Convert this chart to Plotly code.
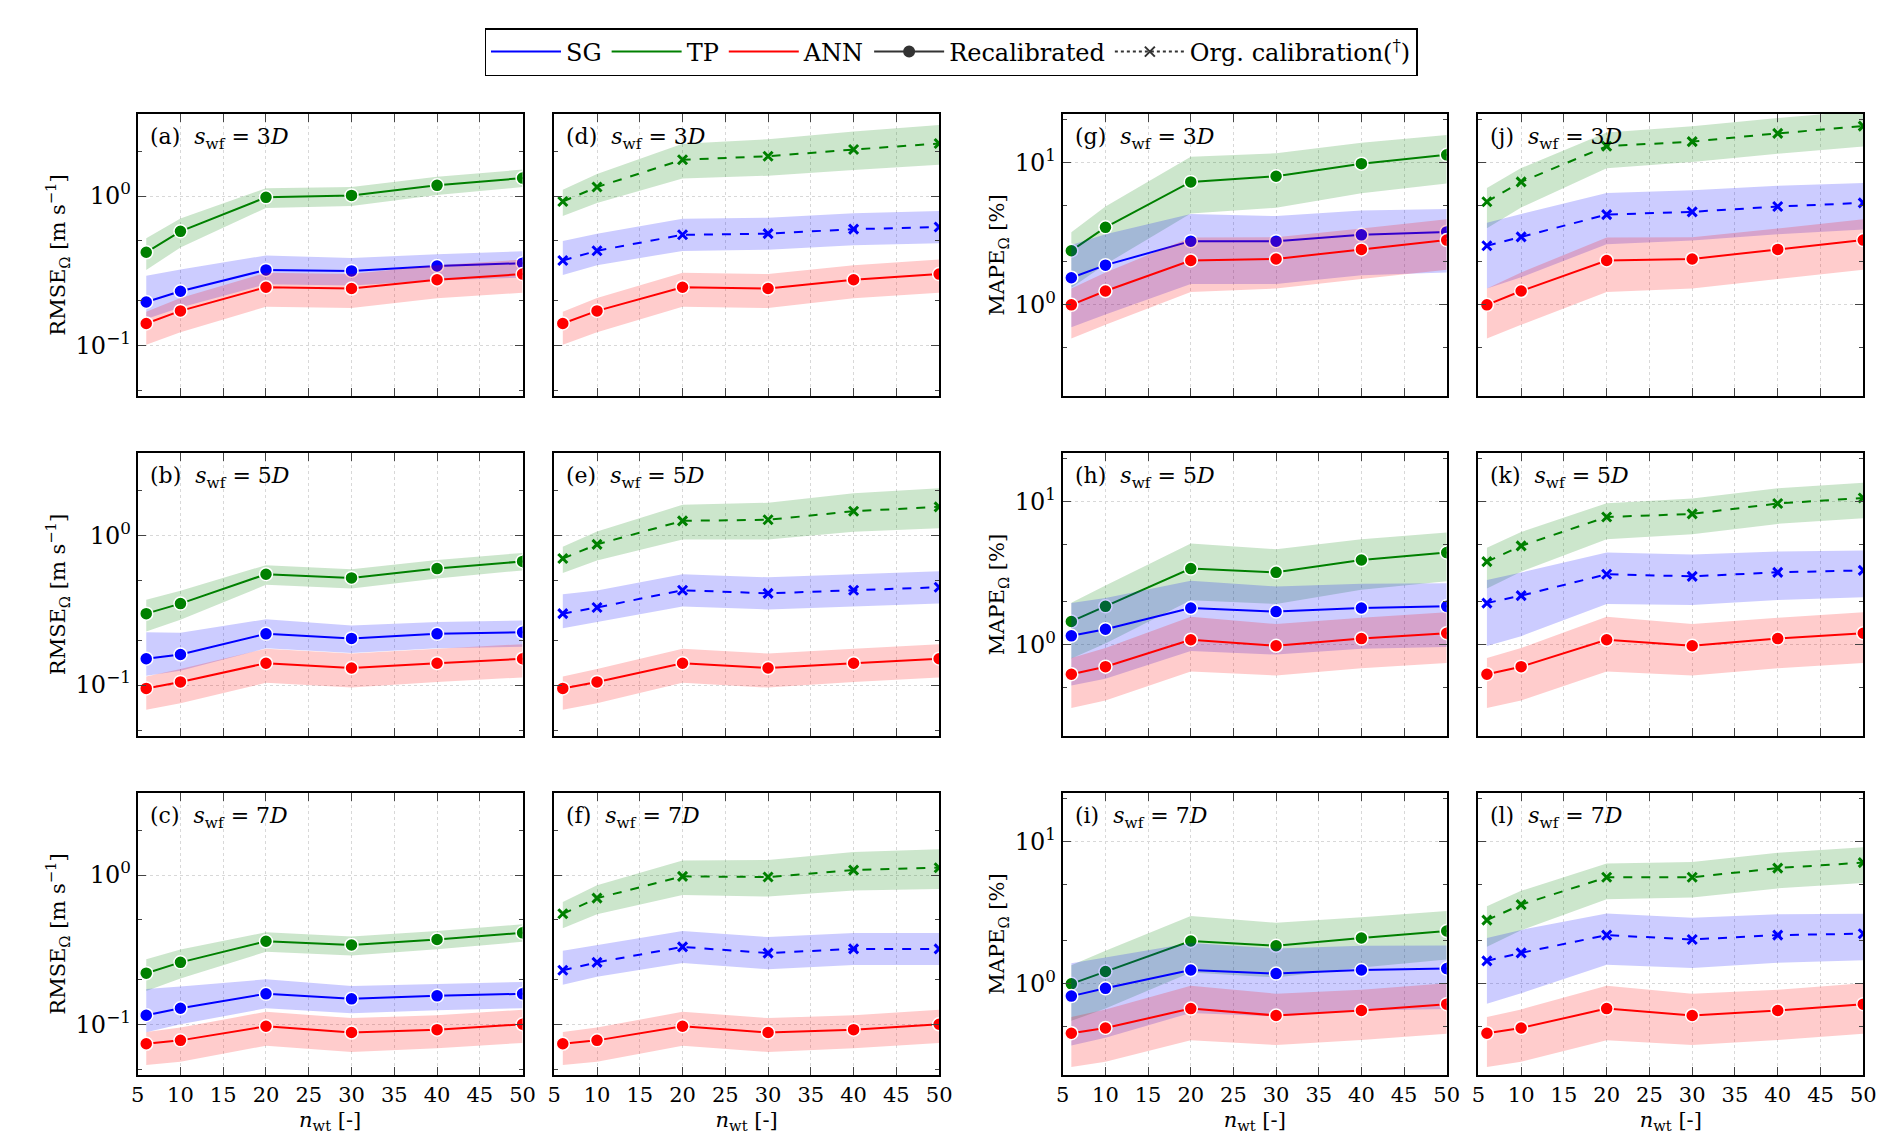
import plotly.graph_objects as go
from plotly.subplots import make_subplots

# number of wind turbines
n_wt = [6, 10, 20, 30, 40, 50]

# ---- RMSE values [m/s], rows: s_wf = 3D, 5D, 7D
tp_rmse_rec = [[0.42, 0.58, 0.98, 1.01, 1.18, 1.32],
               [0.30, 0.35, 0.55, 0.52, 0.60, 0.67],
               [0.22, 0.26, 0.36, 0.34, 0.37, 0.41]]
sg_rmse_rec = [[0.195, 0.23, 0.32, 0.315, 0.34, 0.355],
               [0.15, 0.16, 0.22, 0.205, 0.22, 0.225],
               [0.115, 0.128, 0.16, 0.148, 0.155, 0.16]]
ann_rmse = [[0.14, 0.17, 0.245, 0.24, 0.275, 0.30],
            [0.095, 0.105, 0.14, 0.13, 0.14, 0.15],
            [0.074, 0.078, 0.097, 0.088, 0.092, 0.10]]
tp_rmse_org = [[0.92, 1.15, 1.75, 1.85, 2.05, 2.25],
               [0.70, 0.87, 1.25, 1.27, 1.45, 1.55],
               [0.55, 0.70, 0.98, 0.97, 1.08, 1.12]]
sg_rmse_org = [[0.37, 0.43, 0.55, 0.56, 0.60, 0.62],
               [0.30, 0.33, 0.43, 0.41, 0.43, 0.45],
               [0.23, 0.26, 0.33, 0.30, 0.32, 0.32]]

# ---- MAPE values [%]
tp_mape_rec = [[2.4, 3.5, 7.3, 8.0, 9.8, 11.3],
               [1.45, 1.85, 3.4, 3.2, 3.9, 4.4],
               [1.0, 1.22, 2.0, 1.85, 2.1, 2.35]]
sg_mape_rec = [[1.55, 1.9, 2.8, 2.8, 3.1, 3.25],
               [1.15, 1.28, 1.8, 1.7, 1.8, 1.85],
               [0.82, 0.93, 1.25, 1.18, 1.25, 1.28]]
ann_mape = [[1.0, 1.25, 2.05, 2.1, 2.45, 2.85],
            [0.62, 0.70, 1.08, 0.98, 1.10, 1.20],
            [0.45, 0.49, 0.67, 0.60, 0.65, 0.72]]
tp_mape_org = [[5.3, 7.3, 13.0, 14.0, 16.0, 18.0],
               [3.8, 4.9, 7.8, 8.2, 9.7, 10.6],
               [2.8, 3.6, 5.6, 5.6, 6.5, 7.1]]
sg_mape_org = [[2.6, 3.0, 4.3, 4.5, 4.9, 5.2],
               [1.95, 2.2, 3.1, 3.0, 3.2, 3.3],
               [1.45, 1.65, 2.2, 2.05, 2.2, 2.25]]

# band spread (lower / upper factor relative to the line)
tp_rmse_lo, tp_rmse_hi = [0.76, 0.78, 0.85, 0.85, 0.86, 0.87], [1.24, 1.22, 1.15, 1.14, 1.14, 1.14]
sg_rmse_lo, sg_rmse_hi = [0.77, 0.78, 0.80, 0.80, 0.80, 0.80], [1.50, 1.40, 1.25, 1.22, 1.20, 1.20]
ann_rmse_lo, ann_rmse_hi = [0.72, 0.72, 0.74, 0.74, 0.75, 0.75], [1.20, 1.22, 1.25, 1.25, 1.25, 1.25]
tp_org_lo, tp_org_hi = [0.80, 0.78, 0.75, 0.74, 0.73, 0.72], [1.20, 1.22, 1.28, 1.30, 1.32, 1.33]
sg_org_lo, sg_org_hi = [0.80, 0.80, 0.78, 0.78, 0.78, 0.78], [1.35, 1.30, 1.28, 1.28, 1.28, 1.28]
tp_mape_lo, tp_mape_hi = [0.55, 0.55, 0.60, 0.60, 0.62, 0.63], [1.35, 1.40, 1.50, 1.45, 1.40, 1.38]
sg_mape_lo, sg_mape_hi = [0.45, 0.45, 0.50, 0.50, 0.52, 0.52], [1.70, 1.65, 1.55, 1.50, 1.48, 1.45]
ann_mape_lo, ann_mape_hi = [0.58, 0.58, 0.60, 0.62, 0.62, 0.62], [1.30, 1.35, 1.45, 1.42, 1.40, 1.40]
tpo_mape_lo, tpo_mape_hi = [0.65, 0.66, 0.70, 0.72, 0.72, 0.72], [1.25, 1.25, 1.25, 1.28, 1.28, 1.28]
sgo_mape_lo, sgo_mape_hi = [0.50, 0.52, 0.62, 0.63, 0.64, 0.65], [1.45, 1.45, 1.42, 1.42, 1.40, 1.38]

spacings = ["3", "5", "7"]
panel_letters = [["a", "d", "g", "j"], ["b", "e", "h", "k"], ["c", "f", "i", "l"]]

BLUE, GREEN, RED = "#0000ff", "#008000", "#ff0000"
FILL = {BLUE: "rgba(0,0,255,0.2)", GREEN: "rgba(0,128,0,0.2)", RED: "rgba(255,0,0,0.2)"}
FONT = "DejaVu Serif"

W, H = 1892, 1148
col_px = [(124, 513), (545, 934), (1059, 1447), (1479, 1868)]
row_px = [(106, 388), (445, 728), (785, 1067)]

fig = make_subplots(rows=3, cols=4)


def add_series(row, col, y, lo, hi, color, org):
    lower = [v * f for v, f in zip(y, lo)]
    upper = [v * f for v, f in zip(y, hi)]
    fig.add_trace(go.Scatter(x=n_wt, y=lower, mode="lines", line=dict(width=0),
                             showlegend=False, hoverinfo="skip"), row=row, col=col)
    fig.add_trace(go.Scatter(x=n_wt, y=upper, mode="lines", line=dict(width=0),
                             fill="tonexty", fillcolor=FILL[color],
                             showlegend=False, hoverinfo="skip"), row=row, col=col)
    if org:
        fig.add_trace(go.Scatter(x=n_wt, y=y, mode="lines+markers",
                                 line=dict(color=color, width=2, dash="dash"),
                                 marker=dict(symbol="x-thin", size=9,
                                             line=dict(color=color, width=3)),
                                 showlegend=False), row=row, col=col)
    else:
        fig.add_trace(go.Scatter(x=n_wt, y=y, mode="lines+markers",
                                 line=dict(color=color, width=2),
                                 marker=dict(symbol="circle", size=13, color=color,
                                             line=dict(color="white", width=1.5)),
                                 showlegend=False), row=row, col=col)


for r in range(3):
    R = r + 1
    # RMSE recalibrated
    add_series(R, 1, tp_rmse_rec[r], tp_rmse_lo, tp_rmse_hi, GREEN, False)
    add_series(R, 1, sg_rmse_rec[r], sg_rmse_lo, sg_rmse_hi, BLUE, False)
    add_series(R, 1, ann_rmse[r], ann_rmse_lo, ann_rmse_hi, RED, False)
    # RMSE original calibration
    add_series(R, 2, tp_rmse_org[r], tp_org_lo, tp_org_hi, GREEN, True)
    add_series(R, 2, sg_rmse_org[r], sg_org_lo, sg_org_hi, BLUE, True)
    add_series(R, 2, ann_rmse[r], ann_rmse_lo, ann_rmse_hi, RED, False)
    # MAPE recalibrated
    add_series(R, 3, tp_mape_rec[r], tp_mape_lo, tp_mape_hi, GREEN, False)
    add_series(R, 3, sg_mape_rec[r], sg_mape_lo, sg_mape_hi, BLUE, False)
    add_series(R, 3, ann_mape[r], ann_mape_lo, ann_mape_hi, RED, False)
    # MAPE original calibration
    add_series(R, 4, tp_mape_org[r], tpo_mape_lo, tpo_mape_hi, GREEN, True)
    add_series(R, 4, sg_mape_org[r], sgo_mape_lo, sgo_mape_hi, BLUE, True)
    add_series(R, 4, ann_mape[r], ann_mape_lo, ann_mape_hi, RED, False)

# legend entries
for name, color, dash, sym in [("SG", BLUE, "solid", None), ("TP", GREEN, "solid", None),
                               ("ANN", RED, "solid", None),
                               ("Recalibrated", "#333333", "solid", "circle"),
                               ("Org. calibration(<sup>†</sup>)", "#333333", "dot", "x-thin")]:
    fig.add_trace(go.Scatter(x=[None], y=[None], name=name,
                             mode="lines+markers" if sym else "lines",
                             line=dict(color=color, width=2, dash=dash),
                             marker=dict(symbol=sym or "circle", size=10, color="#333333",
                                         line=dict(color="#333333", width=2))))

tick_sup = {-1: "10<sup>−1</sup>", 0: "10<sup>0</sup>", 1: "10<sup>1</sup>"}
for r in range(3):
    for c in range(4):
        x0, x1 = col_px[c]
        y0, y1 = row_px[r]
        mape = c >= 2
        rng = [-0.64, 1.34] if mape else [-1.34, 0.55]
        decades = [0, 1] if mape else [-1, 0]
        fig.update_xaxes(row=r + 1, col=c + 1, domain=[x0 / W, x1 / W],
                         range=[5, 50], tickvals=list(range(5, 51, 5)),
                         showticklabels=(r == 2), ticks="inside", ticklen=8,
                         mirror="ticks", showline=True, linecolor="black", linewidth=2,
                         showgrid=True, gridcolor="#d8d8d8", griddash="dot", gridwidth=1,
                         zeroline=False, tickfont=dict(family=FONT, size=21, color="black"),
                         title=dict(text="<i>n</i><sub>wt</sub> [-]" if r == 2 else "",
                                    font=dict(family=FONT, size=21, color="black"),
                                    standoff=6))
        fig.update_yaxes(row=r + 1, col=c + 1, domain=[1 - y1 / H, 1 - y0 / H],
                         type="log", range=rng,
                         tickvals=[10 ** d for d in decades],
                         ticktext=[tick_sup[d] for d in decades],
                         showticklabels=(c in (0, 2)), ticks="inside", ticklen=8,
                         minor=dict(ticks="inside", ticklen=4, dtick="D2", showgrid=False),
                         mirror="ticks", showline=True, linecolor="black", linewidth=2,
                         showgrid=True, gridcolor="#d8d8d8", griddash="dot", gridwidth=1,
                         zeroline=False, tickfont=dict(family=FONT, size=24, color="black"),
                         title=dict(text=("MAPE<sub>Ω</sub> [%]" if mape else
                                          "RMSE<sub>Ω</sub> [m s<sup>−1</sup>]") if c in (0, 2) else "",
                                    font=dict(family=FONT, size=21, color="black"),
                                    standoff=4))
        fig.add_annotation(x=(x0 + 10) / W, y=1 - (y0 + 8) / H, xref="paper", yref="paper",
                           xanchor="left", yanchor="top", showarrow=False,
                           text=f"({panel_letters[r][c]})  <i>s</i><sub>wf</sub> = {spacings[r]}<i>D</i>",
                           font=dict(family=FONT, size=22, color="black"))

fig.update_layout(
    width=W, height=H, margin=dict(l=0, r=0, t=0, b=0),
    plot_bgcolor="white", paper_bgcolor="white",
    legend=dict(orientation="h", x=0.5, xanchor="center", y=1 - 20 / H, yanchor="top",
                traceorder="normal",
                bordercolor="black", borderwidth=1.5, bgcolor="white",
                font=dict(family=FONT, size=24, color="black"),
                itemwidth=70, entrywidth=0),
)

fig.write_html("out.html")
